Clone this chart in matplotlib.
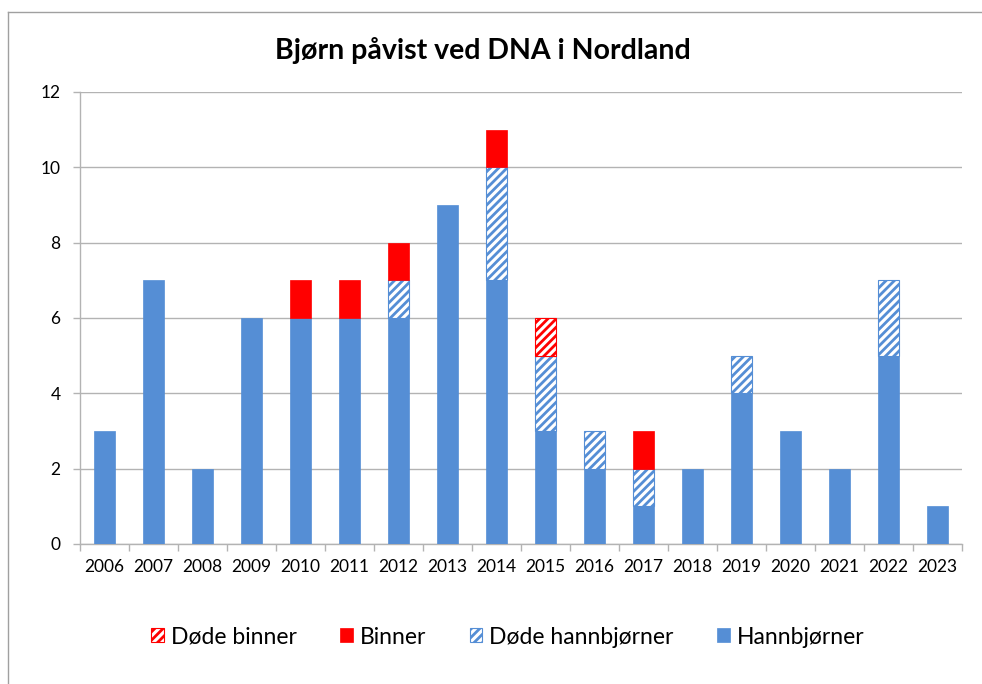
import matplotlib
matplotlib.use("Agg")
import matplotlib.pyplot as plt
from matplotlib.lines import Line2D
import numpy as np

plt.rcParams['font.family'] = ['Lato', 'DejaVu Sans']
plt.rcParams['hatch.linewidth'] = 2.0

years = [str(y) for y in range(2006, 2024)]
hannbjorner = [3, 7, 2, 6, 6, 6, 6, 9, 7, 3, 2, 1, 2, 4, 3, 2, 5, 1]
dode_hannbjorner = [0, 0, 0, 0, 0, 0, 1, 0, 3, 2, 1, 1, 0, 1, 0, 0, 2, 0]
binner = [0, 0, 0, 0, 1, 1, 1, 0, 1, 0, 0, 1, 0, 0, 0, 0, 0, 0]
dode_binner = [0, 0, 0, 0, 0, 0, 0, 0, 0, 1, 0, 0, 0, 0, 0, 0, 0, 0]

BLUE = '#558ED5'
RED = '#FF0000'
GRID = '#B3B3B3'

fig = plt.figure(figsize=(9.82, 6.84), dpi=100)
ax = fig.add_axes([80/982, 1-544/684, (962-80)/982, (544-92)/684])

x = np.arange(len(years))
w = 0.41
h = np.array(hannbjorner, float)
dh = np.array(dode_hannbjorner, float)
b = np.array(binner, float)
db = np.array(dode_binner, float)


def stacked(vals, bottom, label, **kw):
    m = vals > 0
    return ax.bar(x[m], vals[m], w, bottom=bottom[m], zorder=3, label=label, **kw)


stacked(h, np.zeros_like(h), 'Hannbjørner', color=BLUE, edgecolor=BLUE, linewidth=0.5)
stacked(dh, h, 'Døde hannbjørner', facecolor='white', edgecolor=BLUE, hatch='////',
        linewidth=0.8)
stacked(b, h+dh, 'Binner', color=RED, edgecolor=RED, linewidth=0.5)
stacked(db, h+dh+b, 'Døde binner', facecolor='white', edgecolor=RED, hatch='////',
        linewidth=0.8)

ax.set_xlim(-0.5, len(years)-0.5)
ax.set_ylim(0, 12)
ax.set_yticks(range(0, 13, 2))
ax.yaxis.grid(True, color=GRID, linewidth=1.0, zorder=0)
ax.set_axisbelow(True)
for s in ['top', 'right']:
    ax.spines[s].set_visible(False)
for s in ['left', 'bottom']:
    ax.spines[s].set_color(GRID)
    ax.spines[s].set_linewidth(1.0)

ax.set_xticks(x)
ax.set_xticklabels(years)
ax.set_xticks(np.arange(-0.5, len(years), 1.0), minor=True)
ax.tick_params(axis='x', which='major', length=0, pad=11, labelsize=12.5, labelcolor='black')
ax.tick_params(axis='x', which='minor', length=5, color=GRID, width=1.0, direction='out')
ax.tick_params(axis='y', length=5, color=GRID, width=1.0, pad=9, labelsize=12.5)

fig.text(0.492, 1-50/684, 'Bjørn påvist ved DNA i Nordland', ha='center', va='center',
         fontsize=20.5, fontweight='bold')

handles, labels = ax.get_legend_handles_labels()
fig.legend(handles[::-1], labels[::-1], loc='center', bbox_to_anchor=(0.517, 1-637/684),
           ncol=4, frameon=False, fontsize=16.5, handlelength=0.55, handleheight=0.55,
           handletextpad=0.3, columnspacing=1.9)

# outer chart border
fig.add_artist(Line2D([8/982, 1.0], [1-12/684, 1-12/684], color='#A0A0A0', linewidth=1.0,
                      transform=fig.transFigure))
fig.add_artist(Line2D([8/982, 8/982], [0.0, 1-12/684], color='#A0A0A0', linewidth=1.0,
                      transform=fig.transFigure))

fig.savefig('out.png', dpi=100)
